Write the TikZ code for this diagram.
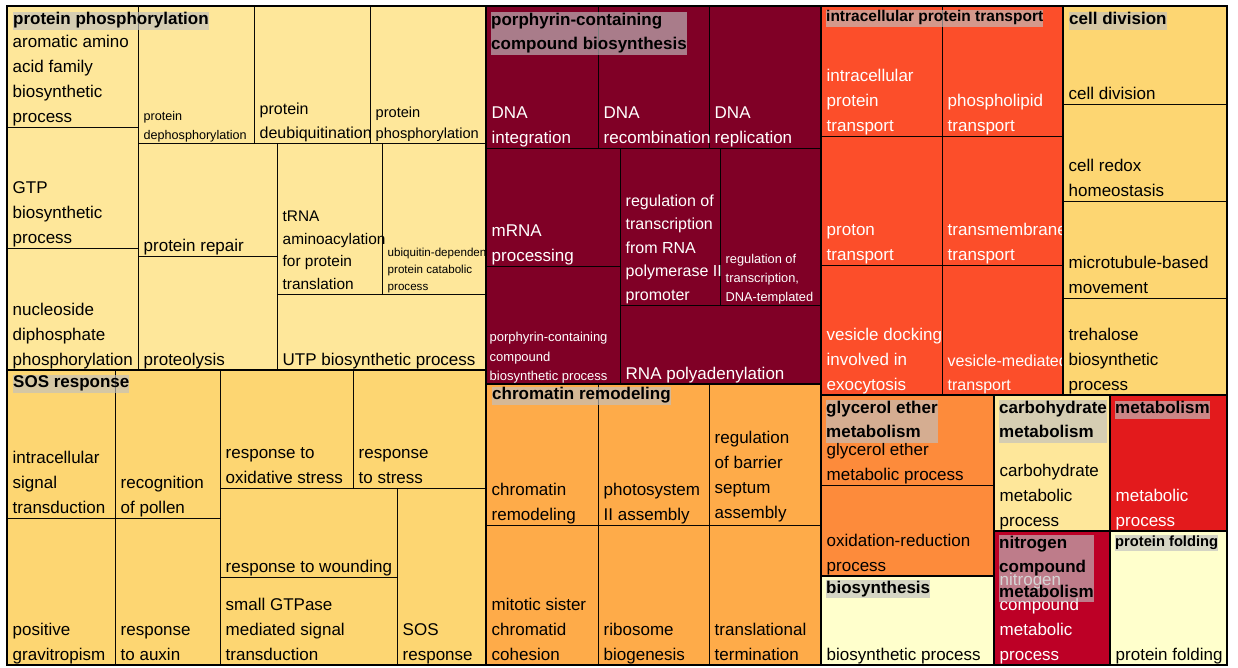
\documentclass[tikz,border=0pt]{standalone}
\usepackage{fontspec}
\setmainfont{Liberation Sans}
\definecolor{cPP}{HTML}{FEE79A}
\definecolor{cSOS}{HTML}{FDD672}
\definecolor{cCD}{HTML}{FDD672}
\definecolor{cPOR}{HTML}{800026}
\definecolor{cIPT}{HTML}{FC4E2A}
\definecolor{cCHR}{HTML}{FEAB49}
\definecolor{cGLY}{HTML}{FD8B3B}
\definecolor{cCARB}{HTML}{FEE79A}
\definecolor{cMET}{HTML}{E31A1C}
\definecolor{cNIT}{HTML}{BD0026}
\definecolor{cLITE}{HTML}{FFFFCC}
\definecolor{cHDR}{HTML}{C0C0C0}
\tikzset{
  cellline/.style={draw=black, draw opacity=0.8, line width=0.9pt},
  groupline/.style={draw=black, line width=2.5pt},
}
% label: name, cell left, cell bottom, size, colour, text
\newcommand\tmlab[6]{%
  \pgfmathsetmacro\tmskip{1.47*#4}%
  \node[anchor=south west, inner sep=0pt, text depth=0pt, align=left, text=#5,
        font=\fontsize{#4}{\tmskip}\selectfont] (#1) at ({#2+5.5},{#3-0.28*#4}) {#6};}
% header: name, cell left, cell top, size, top offset, number of lines, text
\newcommand\tmhead[7]{%
  \pgfmathsetmacro\tmskip{1.44*#4}%
  \pgfmathsetmacro\tmht{0.76*#4+(#6-1)*\tmskip}%
  \pgfmathsetmacro\tmdp{0.3*#4}%
  \node[anchor=north west, inner sep=0pt, text height=\tmht pt, text depth=\tmdp pt,
        align=left, fill=cHDR, fill opacity=0.65, text opacity=1, text=black,
        font=\fontsize{#4}{\tmskip}\selectfont\bfseries] (#1) at ({#2+6},{#3+#5}) {#7};}
\newcommand\tmbox[4]{\draw[cellline] (#1,#2) rectangle (#3,#4);}
\begin{document}
\begin{tikzpicture}[x=1pt,y=-1pt]
\useasboundingbox (0,0) rectangle (1238,667);
\fill[white] (0,0) rectangle (1238,667);

% ---------- protein phosphorylation ----------
\begin{scope}
\clip (7,6) rectangle (486,370);
\fill[cPP] (7,6) rectangle (486,370);
\tmbox{7}{6}{138}{127}\tmbox{7}{127}{138}{248}\tmbox{7}{248}{138}{370}
\tmbox{138}{6}{254}{143}\tmbox{254}{6}{370}{143}\tmbox{370}{6}{486}{143}
\tmbox{138}{143}{277}{256}\tmbox{138}{256}{277}{370}
\tmbox{277}{143}{382}{294}\tmbox{382}{143}{486}{294}\tmbox{277}{294}{486}{370}
\tmlab{aro}{7}{127}{17}{black}{aromatic amino\\acid family\\biosynthetic\\process}
\tmlab{gtp}{7}{248}{17}{black}{GTP\\biosynthetic\\process}
\tmlab{nuc}{7}{370}{17}{black}{nucleoside\\diphosphate\\phosphorylation}
\tmlab{pdp}{138}{143}{12.6}{black}{protein\\dephosphorylation}
\tmlab{pdu}{254}{143}{16}{black}{protein\\deubiquitination}
\tmlab{pph}{370}{143}{14.6}{black}{protein\\phosphorylation}
\tmlab{prep}{138}{256}{17}{black}{protein repair}
\tmlab{prot}{138}{370}{17}{black}{proteolysis}
\tmlab{trna}{277}{294}{15.4}{black}{tRNA\\aminoacylation\\for protein\\translation}
\tmlab{ubq}{382}{294}{11.6}{black}{ubiquitin-dependent\\protein catabolic\\process}
\tmlab{utp}{277}{370}{17}{black}{UTP biosynthetic process}
\tmhead{hpp}{7}{6}{17}{5.5}{1}{protein phosphorylation}
\end{scope}

% ---------- porphyrin-containing compound biosynthesis ----------
\begin{scope}
\clip (486,6) rectangle (821,384);
\fill[cPOR] (486,6) rectangle (821,384);
\tmbox{486}{6}{598}{148}\tmbox{598}{6}{709}{148}\tmbox{709}{6}{821}{148}
\tmbox{486}{148}{620}{266}\tmbox{486}{266}{620}{384}
\tmbox{620}{148}{720}{305}\tmbox{720}{148}{821}{305}\tmbox{620}{305}{821}{384}
\tmlab{dnai}{486}{148}{17}{white}{DNA\\integration}
\tmlab{dnar}{598}{148}{17}{white}{DNA\\recombination}
\tmlab{dnarep}{709}{148}{17}{white}{DNA\\replication}
\tmlab{mrna}{486}{266}{17}{white}{mRNA\\processing}
\tmlab{porp}{484}{384}{13}{white}{porphyrin-containing\\compound\\biosynthetic process}
\tmlab{rtp}{620}{305}{16}{white}{regulation of\\transcription\\from RNA\\polymerase II\\promoter}
\tmlab{rtd}{720}{305}{12.8}{white}{regulation of\\transcription,\\DNA-templated}
\tmlab{rnap}{620}{384}{17}{white}{RNA polyadenylation}
\tmhead{hpor}{485}{6}{17}{6}{2}{porphyrin-containing\\compound biosynthesis}
\end{scope}

% ---------- intracellular protein transport ----------
\begin{scope}
\clip (821,6) rectangle (1063,395);
\fill[cIPT] (821,6) rectangle (1063,395);
\tmbox{821}{6}{942}{136}\tmbox{942}{6}{1063}{136}
\tmbox{821}{136}{942}{265}\tmbox{942}{136}{1063}{265}
\tmbox{821}{265}{942}{395}\tmbox{942}{265}{1063}{395}
\tmlab{ipt}{821}{136}{17}{white}{intracellular\\protein\\transport}
\tmlab{plt}{942}{136}{17}{white}{phospholipid\\transport}
\tmlab{prt}{821}{265}{17}{white}{proton\\transport}
\tmlab{tmt}{942}{265}{17}{white}{transmembrane\\transport}
\tmlab{vdx}{821}{395}{17}{white}{vesicle docking\\involved in\\exocytosis}
\tmlab{vmt}{942}{395}{16}{white}{vesicle-mediated\\transport}
\tmhead{hipt}{820}{6}{15.5}{4}{1}{intracellular protein transport}
\end{scope}

% ---------- cell division ----------
\begin{scope}
\clip (1063,6) rectangle (1227,395);
\fill[cCD] (1063,6) rectangle (1227,395);
\tmbox{1063}{6}{1227}{104}\tmbox{1063}{104}{1227}{201}
\tmbox{1063}{201}{1227}{298}\tmbox{1063}{298}{1227}{395}
\tmlab{cdv}{1063}{104}{17}{black}{cell division}
\tmlab{crh}{1063}{201}{17}{black}{cell redox\\homeostasis}
\tmlab{mtb}{1063}{298}{17}{black}{microtubule-based\\movement}
\tmlab{tre}{1063}{395}{17}{black}{trehalose\\biosynthetic\\process}
\tmhead{hcd}{1063}{6}{17}{5.5}{1}{cell division}
\end{scope}

% ---------- SOS response ----------
\begin{scope}
\clip (7,370) rectangle (486,665);
\fill[cSOS] (7,370) rectangle (486,665);
\tmbox{7}{370}{115}{518}\tmbox{115}{370}{220}{518}
\tmbox{7}{518}{115}{665}\tmbox{115}{518}{220}{665}
\tmbox{220}{370}{353}{488}\tmbox{353}{370}{486}{488}
\tmbox{220}{488}{397}{577}\tmbox{220}{577}{397}{665}\tmbox{397}{488}{486}{665}
\tmlab{ist}{7}{518}{17}{black}{intracellular\\signal\\transduction}
\tmlab{rop}{115}{518}{17}{black}{recognition\\of pollen}
\tmlab{pgr}{7}{665}{17}{black}{positive\\gravitropism}
\tmlab{rta}{115}{665}{17}{black}{response\\to auxin}
\tmlab{ros}{220}{488}{17}{black}{response to\\oxidative stress}
\tmlab{rts}{353}{488}{17}{black}{response\\to stress}
\tmlab{rtw}{220}{577}{17}{black}{response to wounding}
\tmlab{sgt}{220}{665}{17}{black}{small GTPase\\mediated signal\\transduction}
\tmlab{sos}{397}{665}{17}{black}{SOS\\response}
\tmhead{hsos}{7}{370}{17}{4.5}{1}{SOS response}
\end{scope}

% ---------- chromatin remodeling ----------
\begin{scope}
\clip (486,384) rectangle (821,665);
\fill[cCHR] (486,384) rectangle (821,665);
\tmbox{486}{384}{598}{525}\tmbox{598}{384}{709}{525}\tmbox{709}{384}{821}{525}
\tmbox{486}{525}{598}{665}\tmbox{598}{525}{709}{665}\tmbox{709}{525}{821}{665}
\tmlab{chr}{486}{525}{17}{black}{chromatin\\remodeling}
\tmlab{psa}{598}{525}{17}{black}{photosystem\\II assembly}
\tmlab{rbs}{709}{523}{17}{black}{regulation\\of barrier\\septum\\assembly}
\tmlab{msc}{486}{665}{17}{black}{mitotic sister\\chromatid\\cohesion}
\tmlab{rib}{598}{665}{17}{black}{ribosome\\biogenesis}
\tmlab{ttr}{709}{665}{17}{black}{translational\\termination}
\tmhead{hchr}{486}{384}{17}{2.5}{1}{chromatin remodeling}
\end{scope}

% ---------- glycerol ether metabolism ----------
\begin{scope}
\clip (821,395) rectangle (994,576);
\fill[cGLY] (821,395) rectangle (994,576);
\tmbox{821}{395}{994}{485}\tmbox{821}{485}{994}{576}
\tmlab{gem}{821}{485}{17}{black}{glycerol ether\\metabolic process}
\tmlab{oxr}{821}{576}{17}{black}{oxidation-reduction\\process}
\tmhead{hgly}{820}{395}{17}{5}{2}{glycerol ether\\metabolism}
\end{scope}

% ---------- biosynthesis ----------
\begin{scope}
\clip (821,576) rectangle (994,665);
\fill[cLITE] (821,576) rectangle (994,665);
\tmlab{bsp}{821}{665}{17}{black}{biosynthetic process}
\tmhead{hbio}{820}{576}{17}{4}{1}{biosynthesis}
\end{scope}

% ---------- carbohydrate metabolism ----------
\begin{scope}
\clip (994,395) rectangle (1110,531);
\fill[cCARB] (994,395) rectangle (1110,531);
\tmlab{cmp}{994}{531}{17}{black}{carbohydrate\\metabolic\\process}
\tmhead{hcarb}{993}{395}{17}{5}{2}{carbohydrate\\metabolism}
\end{scope}

% ---------- metabolism ----------
\begin{scope}
\clip (1110,395) rectangle (1227,531);
\fill[cMET] (1110,395) rectangle (1227,531);
\tmlab{mp}{1110}{531}{17}{white}{metabolic\\process}
\tmhead{hmet}{1109}{395}{17}{5.5}{1}{metabolism}
\end{scope}

% ---------- nitrogen compound metabolism ----------
\begin{scope}
\clip (994,531) rectangle (1110,665);
\fill[cNIT] (994,531) rectangle (1110,665);
\tmlab{ncm}{994}{665}{17}{white}{nitrogen\\compound\\metabolic\\process}
\tmhead{hnit}{993}{531}{17}{4}{3}{nitrogen\\compound\\metabolism}
\end{scope}

% ---------- protein folding ----------
\begin{scope}
\clip (1110,531) rectangle (1227,665);
\fill[cLITE] (1110,531) rectangle (1227,665);
\tmlab{pfd}{1110}{665}{17}{black}{protein folding}
\tmhead{hpf}{1109}{531}{14.7}{4}{1}{protein folding}
\end{scope}

% ---------- group borders ----------
\draw[groupline] (7,6) rectangle (486,370);
\draw[groupline] (486,6) rectangle (821,384);
\draw[groupline] (821,6) rectangle (1063,395);
\draw[groupline] (1063,6) rectangle (1227,395);
\draw[groupline] (7,370) rectangle (486,665);
\draw[groupline] (486,384) rectangle (821,665);
\draw[groupline] (821,395) rectangle (994,576);
\draw[groupline] (821,576) rectangle (994,665);
\draw[groupline] (994,395) rectangle (1110,531);
\draw[groupline] (1110,395) rectangle (1227,531);
\draw[groupline] (994,531) rectangle (1110,665);
\draw[groupline] (1110,531) rectangle (1227,665);
\end{tikzpicture}
\end{document}
